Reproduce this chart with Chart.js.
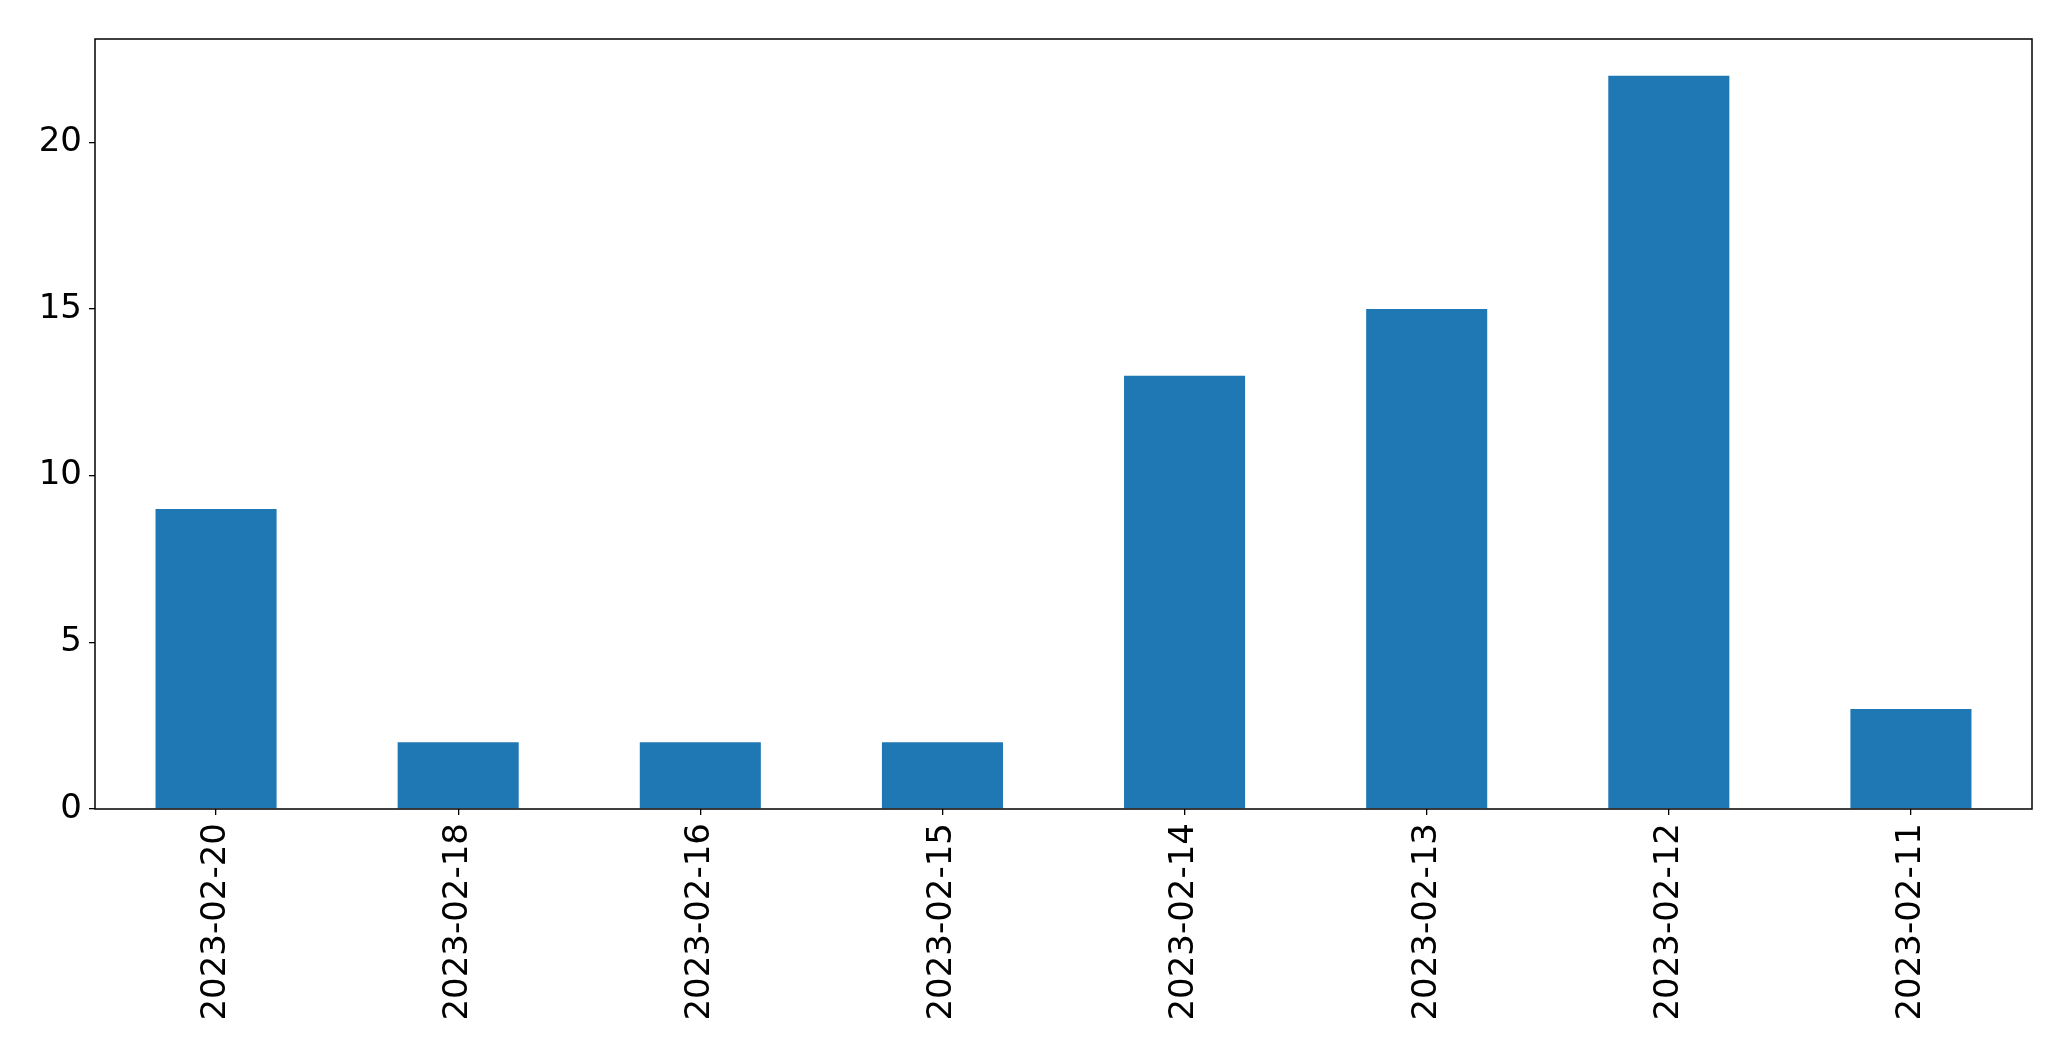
<!DOCTYPE html>
<html>
<head>
<meta charset="utf-8">
<script src="https://cdn.jsdelivr.net/npm/chart.js@4.4.1/dist/chart.umd.min.js"></script>
<style>
    html, body { margin: 0; padding: 0; background: #ffffff; }
    #wrap { width: 2071px; height: 1061px; position: relative; }
</style>
</head>
<body>
<div id="wrap"><canvas id="barChart"></canvas></div>
<script>
// date labels, in the order they appear on the axis
const dates = [
    "2023-02-20",
    "2023-02-18",
    "2023-02-16",
    "2023-02-15",
    "2023-02-14",
    "2023-02-13",
    "2023-02-12",
    "2023-02-11"
];
const counts = [9, 2, 2, 2, 13, 15, 22, 3];
const yTicks = [0, 5, 10, 15, 20];

// box around the plot area (matplotlib style frame)
const frame = {
    id: "frame",
    afterDraw(chart) {
        const { ctx, chartArea: a } = chart;
        ctx.save();
        ctx.strokeStyle = "#000";
        ctx.lineWidth = 1.5;
        ctx.strokeRect(a.left, a.top, a.right - a.left, a.bottom - a.top);
        ctx.restore();
    }
};

const ctx = document.getElementById("barChart").getContext("2d");

new Chart(ctx, {
    type: "bar",
    data: {
        labels: dates,
        datasets: [{
            data: counts,
            backgroundColor: "#1f77b4",
            borderWidth: 0,
            categoryPercentage: 1.0,
            barPercentage: 0.5
        }]
    },
    options: {
        responsive: true,
        maintainAspectRatio: false,
        animation: false,
        layout: {
            padding: { left: 0, top: 39, right: 39, bottom: 0 }
        },
        plugins: {
            legend: { display: false },
            tooltip: { enabled: false }
        },
        scales: {
            x: {
                offset: true,
                grid: {
                    display: true,
                    offset: false,
                    drawOnChartArea: false,
                    drawTicks: true,
                    tickLength: 6,
                    color: "#000",
                    lineWidth: 1.3
                },
                border: { display: false },
                ticks: {
                    color: "#000",
                    font: { family: "DejaVu Sans", size: 34 },
                    minRotation: 90,
                    maxRotation: 90,
                    padding: 8,
                    autoSkip: false
                },
                afterFit(scale) { scale.height = 252; }
            },
            y: {
                min: 0,
                max: 23.1,
                afterBuildTicks(scale) {
                    scale.ticks = yTicks.map(v => ({ value: v }));
                },
                grid: {
                    display: true,
                    drawOnChartArea: false,
                    drawTicks: true,
                    tickLength: 6,
                    color: "#000",
                    lineWidth: 1.3
                },
                border: { display: false },
                ticks: {
                    color: "#000",
                    font: { family: "DejaVu Sans", size: 34 },
                    padding: 7
                },
                afterFit(scale) { scale.width = 95; }
            }
        }
    },
    plugins: [frame]
});
</script>
</body>
</html>
